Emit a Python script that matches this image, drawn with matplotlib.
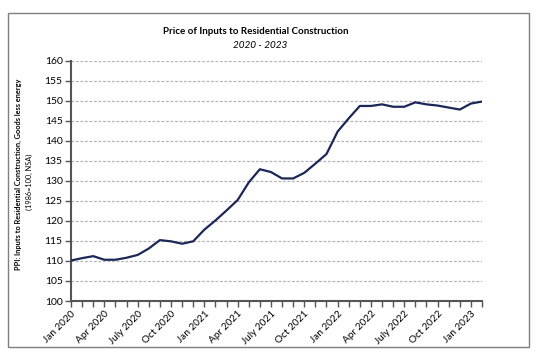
import matplotlib.pyplot as plt
from matplotlib.patches import Rectangle

# monthly PPI values, Jan 2020 .. Feb 2023
months = ['Jan 2020', 'Feb 2020', 'Mar 2020', 'Apr 2020', 'May 2020', 'Jun 2020',
          'July 2020', 'Aug 2020', 'Sep 2020', 'Oct 2020', 'Nov 2020', 'Dec 2020',
          'Jan 2021', 'Feb 2021', 'Mar 2021', 'Apr 2021', 'May 2021', 'Jun 2021',
          'July 2021', 'Aug 2021', 'Sep 2021', 'Oct 2021', 'Nov 2021', 'Dec 2021',
          'Jan 2022', 'Feb 2022', 'Mar 2022', 'Apr 2022', 'May 2022', 'Jun 2022',
          'July 2022', 'Aug 2022', 'Sep 2022', 'Oct 2022', 'Nov 2022', 'Dec 2022',
          'Jan 2023', 'Feb 2023']
ppi = [110.1, 110.7, 111.2, 110.3, 110.3, 110.8, 111.5, 113.1, 115.2, 114.9,
       114.3, 114.9, 117.8, 120.1, 122.6, 125.2, 129.6, 132.9, 132.2, 130.6,
       130.6, 132.0, 134.3, 136.7, 142.3, 145.6, 148.7, 148.7, 149.1, 148.5,
       148.5, 149.6, 149.1, 148.8, 148.3, 147.8, 149.3, 149.8]
y_ticks = [100, 105, 110, 115, 120, 125, 130, 135, 140, 145, 150, 155, 160]

plt.rcParams['font.family'] = ['Lato', 'DejaVu Sans']

fig = plt.figure(figsize=(5.39, 3.55), dpi=100)
ax = fig.add_axes([71/539, 1 - 301/355, 411/539, 240.3/355])

x = list(range(len(months)))
ax.plot(x, ppi, color='#1c2757', lw=1.6, zorder=3)

ax.set_xlim(0, len(months) - 1)
ax.set_ylim(y_ticks[0], y_ticks[-1])
ax.set_yticks(y_ticks)
ax.set_yticklabels([str(t) for t in y_ticks], fontsize=7.5)
ax.set_xticks(x)
ax.set_xticklabels([m if i % 3 == 0 else '' for i, m in enumerate(months)],
                   rotation=45, ha='right', rotation_mode='anchor', fontsize=7.2)
ax.tick_params(axis='both', direction='out', length=4, width=1, color='#555555', pad=2)

for t in y_ticks[1:]:
  ax.axhline(t, color='#b4b4b4', lw=0.9, ls=(0, (2.2, 1.4)), zorder=1)

for s in ['top', 'right']:
  ax.spines[s].set_visible(False)
for s in ['left', 'bottom']:
  ax.spines[s].set_color('#555555')
  ax.spines[s].set_linewidth(1.5)

fig.text(256/539, 1 - 32/355, 'Price of Inputs to Residential Construction',
         ha='center', va='center', fontsize=7, fontweight='bold')
fig.text(260/539, 1 - 45/355, '2020 - 2023', ha='center', va='center',
         fontsize=7.2, style='italic')
fig.text(18/539, 1 - 174/355, 'PPI: Inputs to Residential Construction, Goods less energy',
         rotation=90, ha='center', va='center', fontsize=5.3, fontweight='bold')
fig.text(29/539, 1 - 182/355, '(1986=100, NSA)', rotation=90, ha='center',
         va='center', fontsize=5.3)

fig.patches.append(Rectangle((8/539, 1 - 347/355), 521/539, 334/355,
                             transform=fig.transFigure, fill=False,
                             edgecolor='#7f7f7f', lw=1))

fig.savefig('out.png', dpi=100)
